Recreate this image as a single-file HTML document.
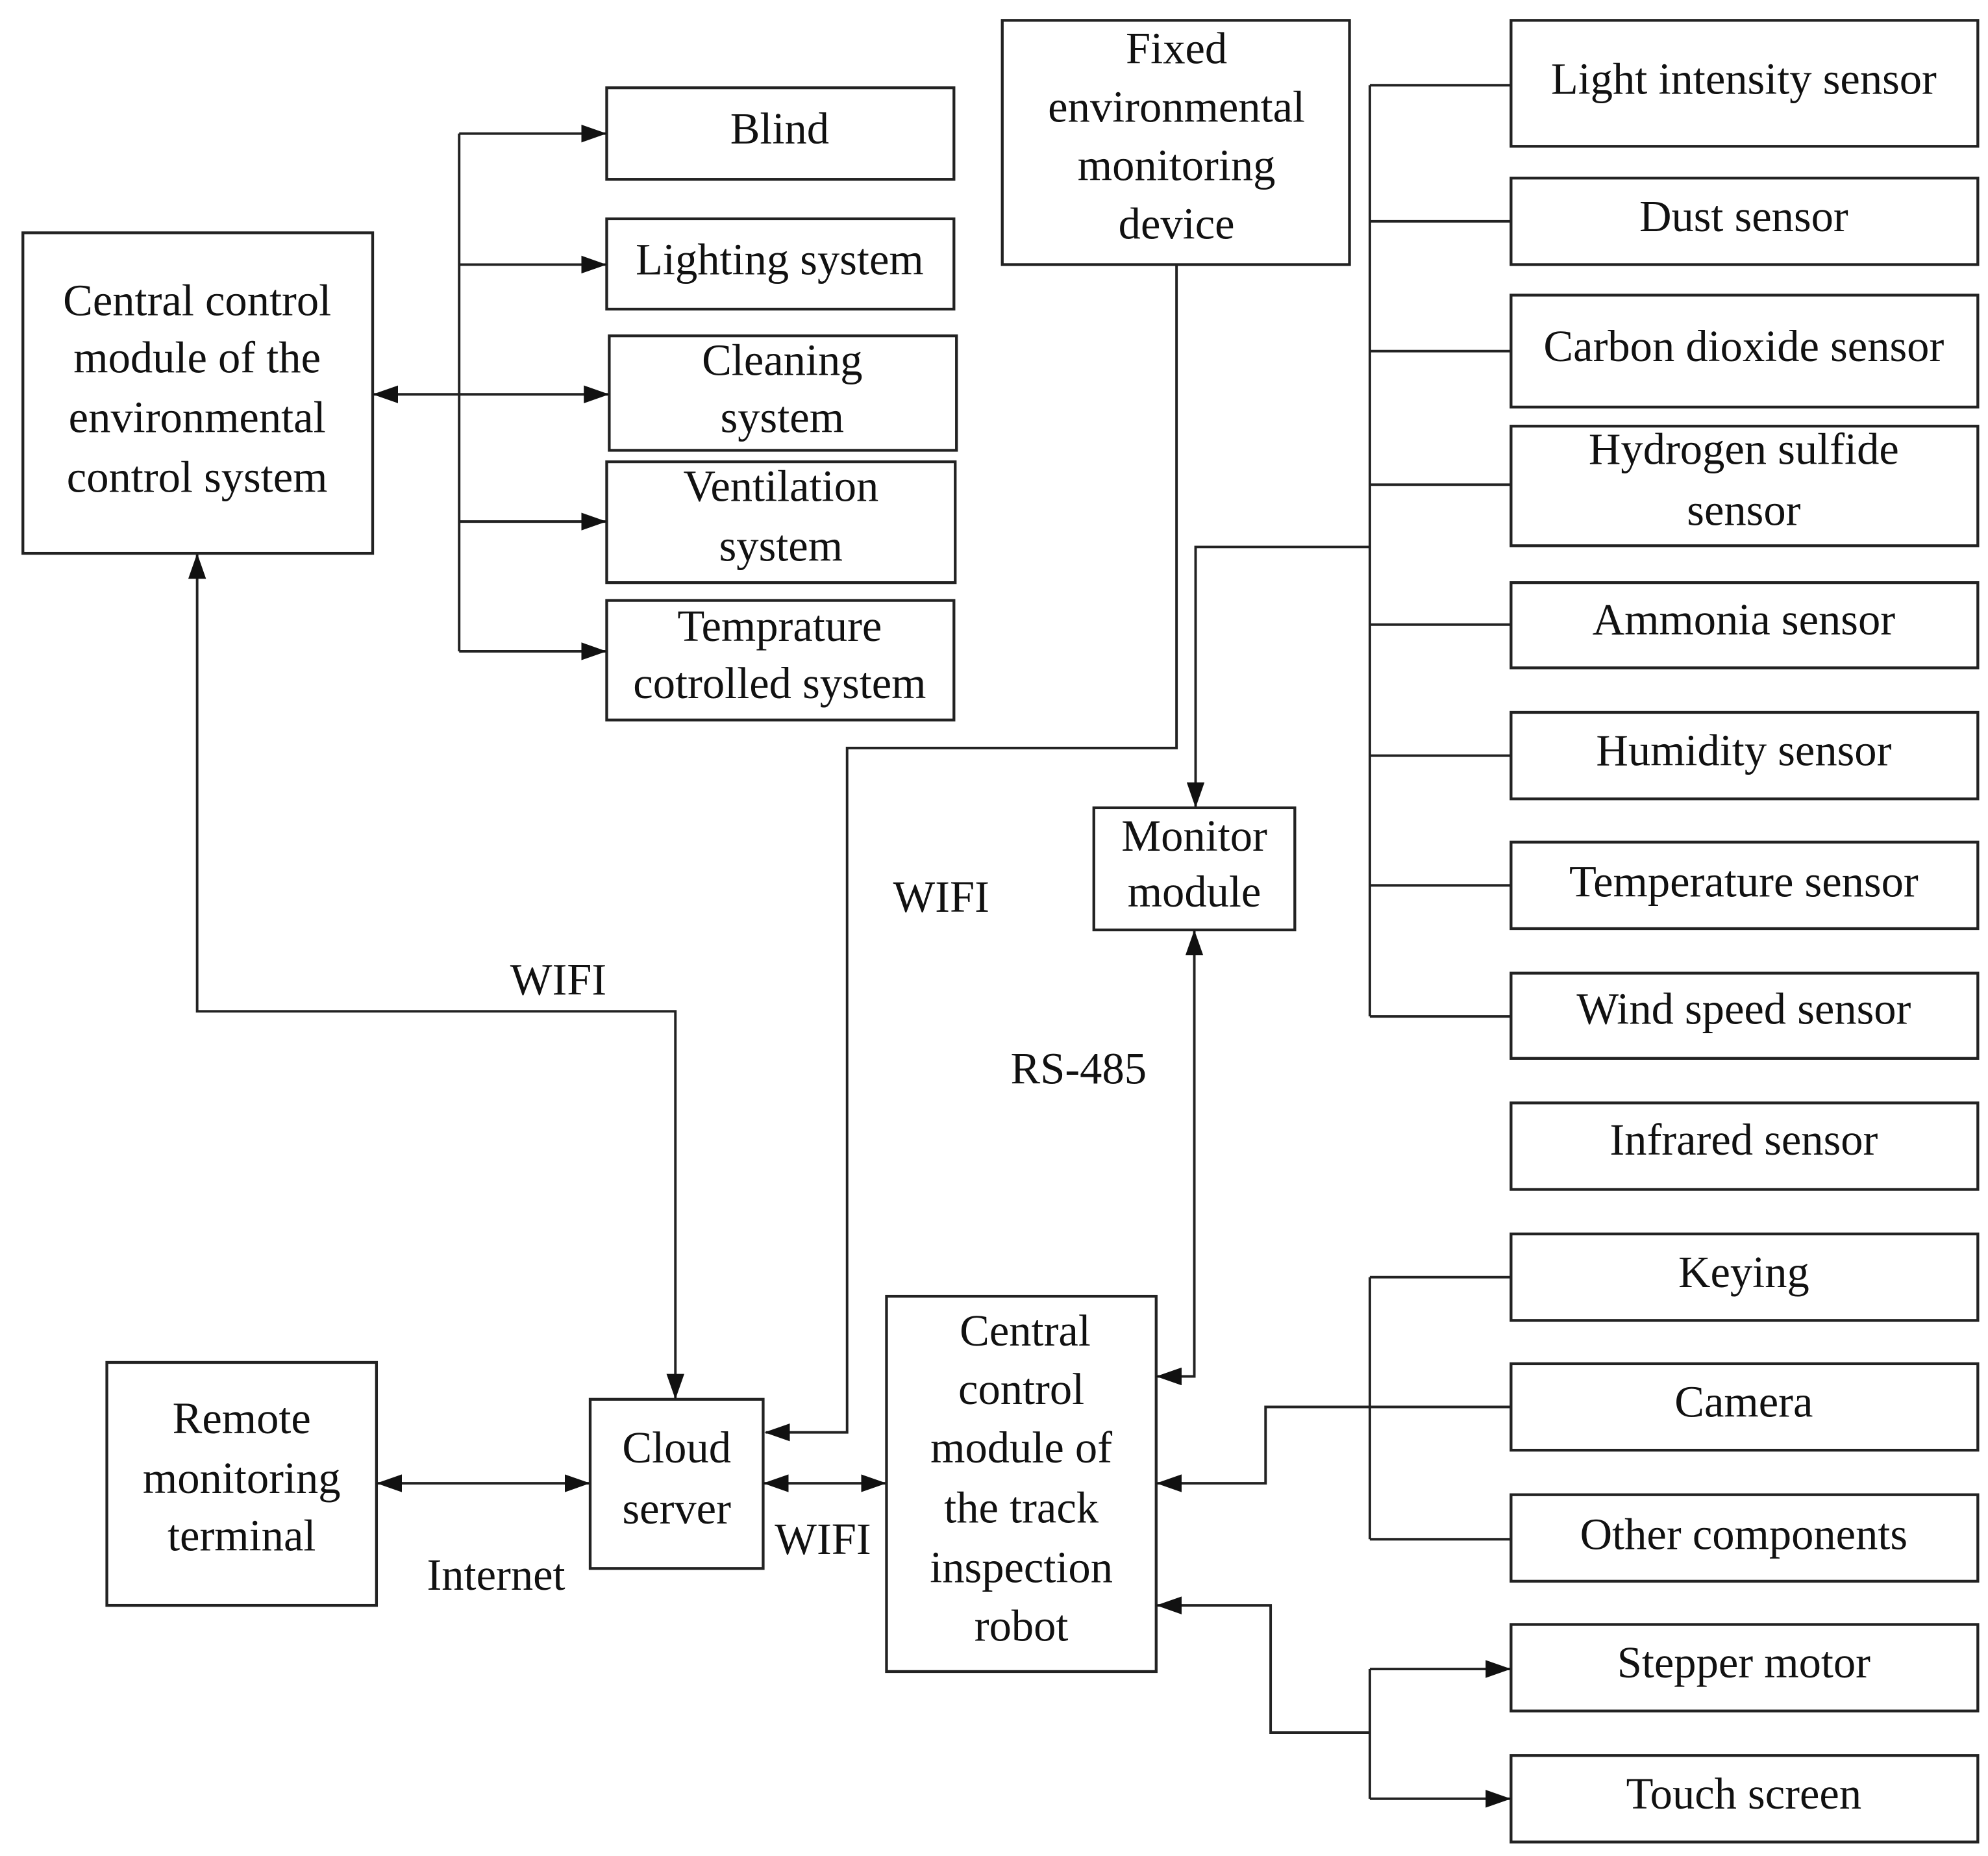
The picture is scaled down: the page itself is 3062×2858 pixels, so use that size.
<!DOCTYPE html>
<html><head><meta charset="utf-8"><style>
html,body{margin:0;padding:0;background:#fff;}
svg{display:block;}
text{font-family:"Liberation Serif",serif;font-size:35px;fill:#111;text-anchor:middle;dominant-baseline:central;}
rect{fill:#fff;stroke:#222;stroke-width:2.2;}
line,polyline{stroke:#222;stroke-width:2;fill:none;}
</style></head><body>
<svg width="3062" height="2858" viewBox="0 0 1563 1459" preserveAspectRatio="none" xmlns="http://www.w3.org/2000/svg">
<defs>
<marker id="a" markerWidth="20" markerHeight="14" refX="19" refY="7" orient="auto" markerUnits="userSpaceOnUse"><path d="M0,0 L20,7 L0,14 Z" fill="#111"/></marker>
<marker id="b" markerWidth="20" markerHeight="14" refX="1" refY="7" orient="auto" markerUnits="userSpaceOnUse"><path d="M20,0 L0,7 L20,14 Z" fill="#111"/></marker>
</defs>

<rect x="18" y="183" width="275" height="252"/>
<text x="155" y="236">Central control</text>
<text x="155" y="281">module of the</text>
<text x="155" y="328">environmental</text>
<text x="155" y="375">control system</text>

<rect x="477" y="69" width="273" height="72"/><text x="613" y="101">Blind</text>
<rect x="477" y="172" width="273" height="71"/><text x="613" y="204">Lighting system</text>
<rect x="479" y="264" width="273" height="90"/><text x="615" y="283">Cleaning</text><text x="615" y="328">system</text>
<rect x="477" y="363" width="274" height="95"/><text x="614" y="382">Ventilation</text><text x="614" y="429">system</text>
<rect x="477" y="472" width="273" height="94"/><text x="613" y="492">Temprature</text><text x="613" y="537">cotrolled system</text>

<line x1="361" y1="105" x2="361" y2="512"/>
<line x1="361" y1="105" x2="476" y2="105" marker-end="url(#a)"/>
<line x1="361" y1="208" x2="476" y2="208" marker-end="url(#a)"/>
<line x1="294" y1="310" x2="478" y2="310" marker-start="url(#b)" marker-end="url(#a)"/>
<line x1="361" y1="410" x2="476" y2="410" marker-end="url(#a)"/>
<line x1="361" y1="512" x2="476" y2="512" marker-end="url(#a)"/>

<rect x="788" y="16" width="273" height="192"/>
<text x="925" y="38">Fixed</text>
<text x="925" y="84">environmental</text>
<text x="925" y="130">monitoring</text>
<text x="925" y="176">device</text>

<rect x="1188" y="16" width="367" height="99"/><text x="1371" y="62">Light intensity sensor</text>
<rect x="1188" y="140" width="367" height="68"/><text x="1371" y="170">Dust sensor</text>
<rect x="1188" y="232" width="367" height="88"/><text x="1371" y="272">Carbon dioxide sensor</text>
<rect x="1188" y="335" width="367" height="94"/><text x="1371" y="353">Hydrogen sulfide</text><text x="1371" y="401">sensor</text>
<rect x="1188" y="458" width="367" height="67"/><text x="1371" y="487">Ammonia sensor</text>
<rect x="1188" y="560" width="367" height="68"/><text x="1371" y="590">Humidity sensor</text>
<rect x="1188" y="662" width="367" height="68"/><text x="1371" y="693">Temperature sensor</text>
<rect x="1188" y="765" width="367" height="67"/><text x="1371" y="793">Wind speed sensor</text>
<rect x="1188" y="867" width="367" height="68"/><text x="1371" y="896">Infrared sensor</text>
<rect x="1188" y="970" width="367" height="68"/><text x="1371" y="1000">Keying</text>
<rect x="1188" y="1072" width="367" height="68"/><text x="1371" y="1102">Camera</text>
<rect x="1188" y="1175" width="367" height="68"/><text x="1371" y="1206">Other components</text>
<rect x="1188" y="1277" width="367" height="68"/><text x="1371" y="1307">Stepper motor</text>
<rect x="1188" y="1380" width="367" height="68"/><text x="1371" y="1410">Touch screen</text>

<line x1="1077" y1="67" x2="1077" y2="799"/>
<line x1="1077" y1="67" x2="1188" y2="67"/>
<line x1="1077" y1="174" x2="1188" y2="174"/>
<line x1="1077" y1="276" x2="1188" y2="276"/>
<line x1="1077" y1="381" x2="1188" y2="381"/>
<line x1="1077" y1="491" x2="1188" y2="491"/>
<line x1="1077" y1="594" x2="1188" y2="594"/>
<line x1="1077" y1="696" x2="1188" y2="696"/>
<line x1="1077" y1="799" x2="1188" y2="799"/>
<polyline points="1077,430 940,430 940,634" marker-end="url(#a)"/>

<rect x="860" y="635" width="158" height="96"/>
<text x="939" y="657">Monitor</text><text x="939" y="701">module</text>

<polyline points="925,208 925,588 666,588 666,1126 602,1126" marker-end="url(#a)"/>
<text x="740" y="705">WIFI</text>

<rect x="464" y="1100" width="136" height="133"/>
<text x="532" y="1138">Cloud</text><text x="532" y="1186">server</text>

<rect x="84" y="1071" width="212" height="191"/>
<text x="190" y="1115">Remote</text><text x="190" y="1162">monitoring</text><text x="190" y="1207">terminal</text>
<line x1="297" y1="1166" x2="463" y2="1166" marker-start="url(#b)" marker-end="url(#a)"/>
<text x="390" y="1238">Internet</text>

<line x1="601" y1="1166" x2="696" y2="1166" marker-start="url(#b)" marker-end="url(#a)"/>
<text x="647" y="1210">WIFI</text>

<rect x="697" y="1019" width="212" height="295"/>
<text x="806" y="1046">Central</text>
<text x="803" y="1092">control</text>
<text x="803" y="1138">module of</text>
<text x="803" y="1185">the track</text>
<text x="803" y="1232">inspection</text>
<text x="803" y="1278">robot</text>

<polyline points="939,732 939,1082 910,1082" marker-start="url(#b)" marker-end="url(#a)"/>
<text x="848" y="840">RS-485</text>

<polyline points="155,436 155,795 531,795 531,1099" marker-start="url(#b)" marker-end="url(#a)"/>
<text x="439" y="770">WIFI</text>

<line x1="1077" y1="1004" x2="1077" y2="1210"/>
<line x1="1077" y1="1004" x2="1188" y2="1004"/>
<line x1="1077" y1="1210" x2="1188" y2="1210"/>
<polyline points="1188,1106 995,1106 995,1166 910,1166" marker-end="url(#a)"/>

<polyline points="910,1262 999,1262 999,1362 1077,1362" marker-start="url(#b)"/>
<line x1="1077" y1="1312" x2="1077" y2="1414"/>
<line x1="1077" y1="1312" x2="1187" y2="1312" marker-end="url(#a)"/>
<line x1="1077" y1="1414" x2="1187" y2="1414" marker-end="url(#a)"/>
</svg>
</body></html>
